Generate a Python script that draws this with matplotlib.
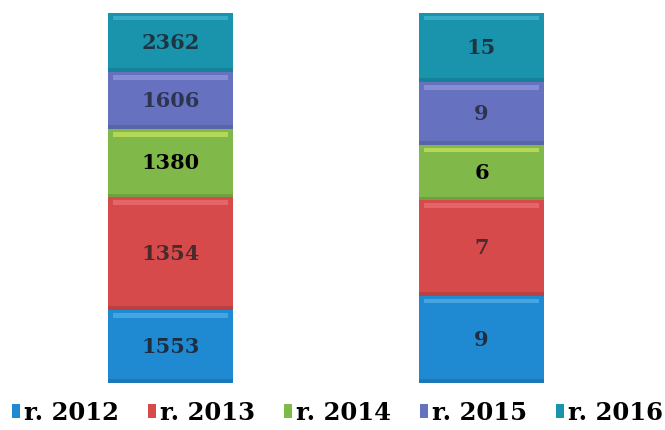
import matplotlib
matplotlib.use("Agg")
import matplotlib.pyplot as plt
import numpy as np
from matplotlib.patches import Patch

years = ["r. 2012", "r. 2013", "r. 2014", "r. 2015", "r. 2016"]
# segment shares (%) as drawn in the picture
left_share = [19.7, 30.5, 18.4, 15.4, 16.0]
right_share = [23.5, 25.9, 14.9, 17.0, 18.7]
# labels shown on the segments
left_labels = [1553, 1354, 1380, 1606, 2362]
right_labels = [9, 7, 6, 9, 15]

colors = ["#1f8ad2", "#d64a4b", "#80b84a", "#6671c0", "#1a93ad"]
highlights = ["#5fb8ee", "#ee7a7a", "#d8ec60", "#9aa2e0", "#4fc0d8"]
label_colors = ["#1e2e40", "#4a2a2a", "#000000", "#2e3450", "#1e3440"]

fig = plt.figure(figsize=(6.65, 4.3), dpi=100)
ax = fig.add_axes([15 / 665, 47 / 430, 622 / 665, 370 / 430])
ax.set_xlim(-0.5, 1.5)
ax.set_ylim(0, 100)
ax.axis("off")

width = 0.4
for xi, shares, labels in [(0, left_share, left_labels), (1, right_share, right_labels)]:
    bottom = 0.0
    for i, (h, lab) in enumerate(zip(shares, labels)):
        ax.bar(xi, h, width=width, bottom=bottom, color=colors[i],
               edgecolor="none")
        # glossy top highlight
        ax.bar(xi, 1.2, width=width * 0.92, bottom=bottom + h - 2.0,
               color=highlights[i], edgecolor="none", alpha=0.6)
        # darker bottom shading
        ax.bar(xi, 1.0, width=width, bottom=bottom,
               color="black", edgecolor="none", alpha=0.12)
        ax.text(xi, bottom + h / 2, str(lab), ha="center", va="center",
                fontsize=15, fontweight="bold", family="DejaVu Serif",
                color=label_colors[i])
        bottom += h

handles = [Patch(facecolor=c, edgecolor="none") for c in colors]
fig.legend(handles, years, loc="center", bbox_to_anchor=(0.5075, 17 / 430),
           ncol=5, frameon=False, handlelength=0.34, handleheight=0.5,
           handletextpad=0.15, columnspacing=1.2,
           prop={"family": "DejaVu Serif", "weight": "bold", "size": 17.5})

fig.savefig("out.png", dpi=100)
